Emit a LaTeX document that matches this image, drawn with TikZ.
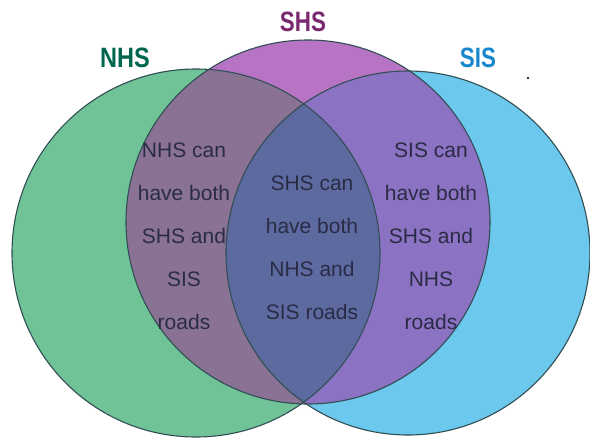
\documentclass[tikz,border=0pt]{standalone}
\usepackage{fontspec}
\setmainfont{Liberation Sans}
\definecolor{cG}{RGB}{112,195,150}
\definecolor{cB}{RGB}{108,200,236}
\definecolor{cP}{RGB}{184,116,196}
\definecolor{cGP}{RGB}{138,114,148}
\definecolor{cPB}{RGB}{140,114,194}
\definecolor{cC}{RGB}{92,106,160}
\definecolor{cLine}{RGB}{48,78,84}
\definecolor{cTxt}{RGB}{42,44,70}
\definecolor{tNHS}{RGB}{0,102,80}
\definecolor{tSHS}{RGB}{122,40,112}
\definecolor{tSIS}{RGB}{24,136,206}
\tikzset{
  ring/.style={draw=cLine, line width=1.1pt},
  title/.style={font=\fontsize{28}{30}\selectfont\bfseries, inner sep=0pt},
  body/.style={font=\fontsize{21}{43}\selectfont, text=cTxt, align=center, inner sep=0pt}
}
\begin{document}
\begin{tikzpicture}[x=1pt,y=-1pt]
\useasboundingbox (0,0) rectangle (590,440);
\fill[white] (0,0) rectangle (590,440);
\coordinate (G) at (196,253);
\coordinate (P) at (308,222);
\coordinate (B) at (408,253);
% single fills
\fill[cG] (G) circle[radius=184pt];
\fill[cB] (B) circle[radius=182pt];
\fill[cP] (P) circle[radius=182pt];
% pairwise
\begin{scope}
  \clip (G) circle[radius=184pt];
  \fill[cGP] (P) circle[radius=182pt];
\end{scope}
\begin{scope}
  \clip (B) circle[radius=182pt];
  \fill[cPB] (P) circle[radius=182pt];
\end{scope}
\begin{scope}
  \clip (G) circle[radius=184pt];
  \fill[cC] (B) circle[radius=182pt];
\end{scope}
% outlines
\draw[ring] (G) circle[radius=184pt];
\draw[ring] (B) circle[radius=182pt];
\draw[ring] (P) circle[radius=182pt];
% titles
\node[title, text=tNHS] (tnhs) at (125,58) {\scalebox{0.84}[1]{NHS}};
\node[title, text=tSHS] (tshs) at (303,22) {\scalebox{0.8}[1]{SHS}};
\node[title, text=tSIS] (tsis) at (478,58) {\scalebox{0.8}[1]{SIS}};
\fill[black!80] (528,78) circle[radius=1.3pt];
% region texts
\node[body] (left) at (184,236) {NHS can\\have both\\SHS and\\SIS\\roads};
\node[body] (mid) at (312,248) {SHS can\\have both\\NHS and\\SIS roads};
\node[body] (right) at (431,236) {SIS can\\have both\\SHS and\\NHS\\roads};
\end{tikzpicture}
\end{document}
